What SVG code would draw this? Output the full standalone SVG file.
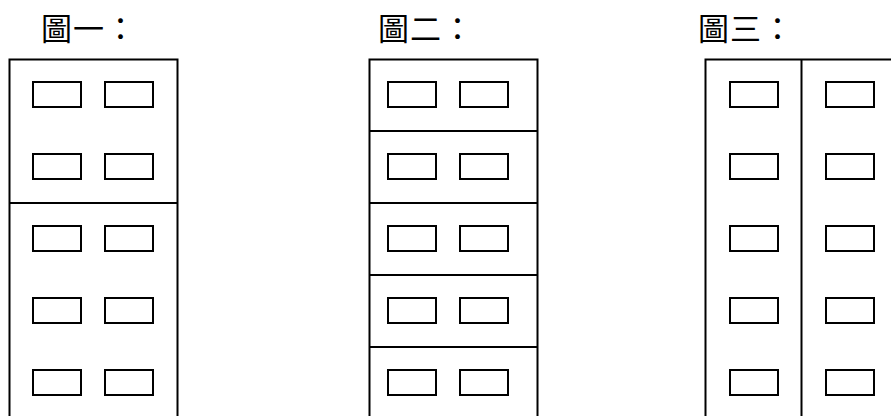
<svg xmlns="http://www.w3.org/2000/svg" width="891" height="416" viewBox="0 0 891 416">
<style>
.t{font-family:"Noto Sans CJK TC","Noto Sans CJK SC",sans-serif;font-size:31px;letter-spacing:1px;fill:#000}
.o{fill:none;stroke:#000;stroke-width:2}
.w{fill:#fff;stroke:#000;stroke-width:2}
</style>
<rect width="891" height="416" fill="#fff"/>
<g id="fig1">
<text class="t" x="41" y="40">圖一：</text>
<rect class="o" x="9.5" y="59.5" width="168" height="400"/>
<line class="o" x1="9.5" y1="203" x2="177.5" y2="203"/>
<rect class="w" x="33" y="82" width="48" height="25"/><rect class="w" x="105" y="82" width="48" height="25"/>
<rect class="w" x="33" y="154" width="48" height="25"/><rect class="w" x="105" y="154" width="48" height="25"/>
<rect class="w" x="33" y="226" width="48" height="25"/><rect class="w" x="105" y="226" width="48" height="25"/>
<rect class="w" x="33" y="298" width="48" height="25"/><rect class="w" x="105" y="298" width="48" height="25"/>
<rect class="w" x="33" y="370" width="48" height="25"/><rect class="w" x="105" y="370" width="48" height="25"/>
</g>
<g id="fig2">
<text class="t" x="378" y="40">圖二：</text>
<rect class="o" x="369.5" y="59.5" width="168" height="400"/>
<line class="o" x1="369.5" y1="131" x2="537.5" y2="131"/>
<line class="o" x1="369.5" y1="203" x2="537.5" y2="203"/>
<line class="o" x1="369.5" y1="275" x2="537.5" y2="275"/>
<line class="o" x1="369.5" y1="347" x2="537.5" y2="347"/>
<rect class="w" x="388" y="82" width="48" height="25"/><rect class="w" x="460" y="82" width="48" height="25"/>
<rect class="w" x="388" y="154" width="48" height="25"/><rect class="w" x="460" y="154" width="48" height="25"/>
<rect class="w" x="388" y="226" width="48" height="25"/><rect class="w" x="460" y="226" width="48" height="25"/>
<rect class="w" x="388" y="298" width="48" height="25"/><rect class="w" x="460" y="298" width="48" height="25"/>
<rect class="w" x="388" y="370" width="48" height="25"/><rect class="w" x="460" y="370" width="48" height="25"/>
</g>
<g id="fig3">
<text class="t" x="698" y="40">圖三：</text>
<rect class="o" x="705.5" y="59.5" width="200" height="400"/>
<line class="o" x1="801.5" y1="59.5" x2="801.5" y2="416"/>
<rect class="w" x="730" y="82" width="48" height="25"/><rect class="w" x="826" y="82" width="48" height="25"/>
<rect class="w" x="730" y="154" width="48" height="25"/><rect class="w" x="826" y="154" width="48" height="25"/>
<rect class="w" x="730" y="226" width="48" height="25"/><rect class="w" x="826" y="226" width="48" height="25"/>
<rect class="w" x="730" y="298" width="48" height="25"/><rect class="w" x="826" y="298" width="48" height="25"/>
<rect class="w" x="730" y="370" width="48" height="25"/><rect class="w" x="826" y="370" width="48" height="25"/>
</g>
</svg>
